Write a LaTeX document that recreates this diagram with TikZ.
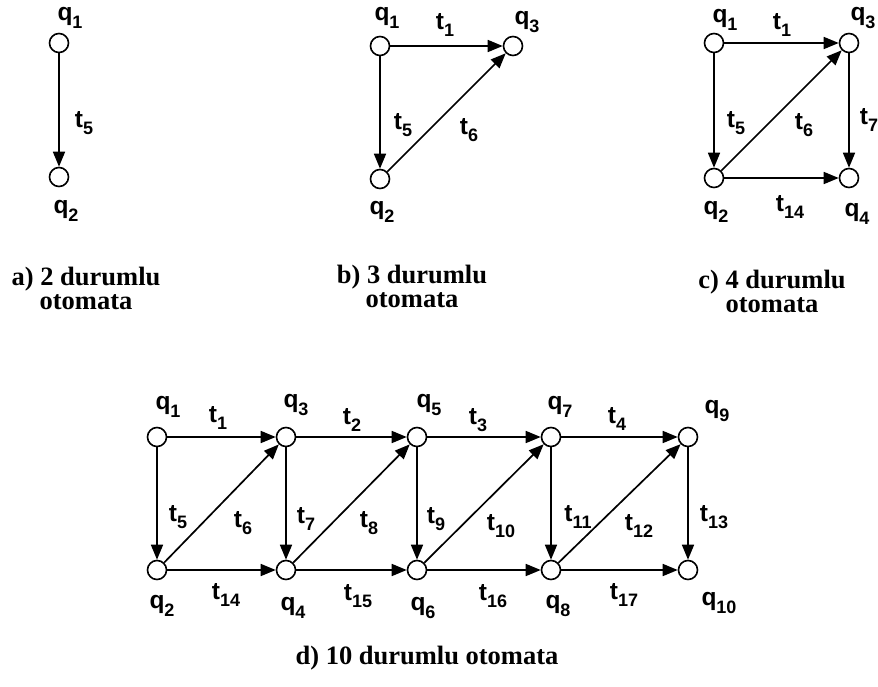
\documentclass[tikz,border=0pt]{standalone}
\usepackage{fontspec}
\setmainfont{Liberation Serif}
\newfontfamily\lsans{Liberation Sans}
\usetikzlibrary{arrows.meta}
\newcommand\lb[2]{{\lsans\bfseries\fontsize{24.5}{24.5}\selectfont #1\raisebox{-7.5pt}{\fontsize{18}{18}\selectfont #2}}}
\tikzset{
  st/.style={draw, circle, minimum size=19pt, inner sep=0pt, line width=1.6pt, fill=white},
  arr/.style={line width=1.7pt, -{Triangle[length=15pt,width=12pt]}},
  lbl/.style={inner sep=0pt},
  captxt/.style={inner sep=0pt, align=center, font=\bfseries\fontsize{26.5}{24}\selectfont}
}
\begin{document}
\begin{tikzpicture}[x=1pt,y=-1pt]
\useasboundingbox (0,0) rectangle (878,687);
% ---- a) ----
\node[st] (a1) at (59,43) {};
\node[st] (a2) at (59,177) {};
\draw[arr] (a1) -- (a2);
\node[lbl] (la1) at (70,18) {\lb{q}{1}};
\node[lbl] (la2) at (66,211) {\lb{q}{2}};
\node[lbl] (lat5) at (84,123) {\lb{t}{5}};
\node[captxt] (capa) at (86,288) {a) 2 durumlu\\otomata};
% ---- b) ----
\node[st] (b1) at (380,46) {};
\node[st] (b3) at (513,46) {};
\node[st] (b2) at (380,179) {};
\draw[arr] (b1) -- (b3);
\draw[arr] (b1) -- (b2);
\draw[arr] (b2) -- (b3);
\node[lbl] (lb1) at (387,18) {\lb{q}{1}};
\node[lbl] (lb3) at (527,22) {\lb{q}{3}};
\node[lbl] (lb2) at (382,212) {\lb{q}{2}};
\node[lbl] (lbt1) at (445,25) {\lb{t}{1}};
\node[lbl] (lbt5) at (403,125) {\lb{t}{5}};
\node[lbl] (lbt6) at (469,130) {\lb{t}{6}};
\node[captxt] (capb) at (412,286) {b) 3 durumlu\\otomata};
% ---- c) ----
\node[st] (c1) at (714,43) {};
\node[st] (c3) at (849,43) {};
\node[st] (c2) at (714,178) {};
\node[st] (c4) at (849,178) {};
\draw[arr] (c1) -- (c3);
\draw[arr] (c1) -- (c2);
\draw[arr] (c2) -- (c3);
\draw[arr] (c3) -- (c4);
\draw[arr] (c2) -- (c4);
\node[lbl] (lc1) at (725,20) {\lb{q}{1}};
\node[lbl] (lc3) at (863,18) {\lb{q}{3}};
\node[lbl] (lc2) at (716,212) {\lb{q}{2}};
\node[lbl] (lc4) at (857,214) {\lb{q}{4}};
\node[lbl] (lct1) at (782,25) {\lb{t}{1}};
\node[lbl] (lct5) at (736,123) {\lb{t}{5}};
\node[lbl] (lct6) at (804,125) {\lb{t}{6}};
\node[lbl] (lct7) at (869,120) {\lb{t}{7}};
\node[lbl] (lct14) at (790,207) {\lb{t}{14}};
\node[captxt] (capc) at (772,291) {c) 4 durumlu\\otomata};
% ---- d) ----
\node[st] (d1) at (157,437) {};
\node[st] (d3) at (286,437) {};
\node[st] (d5) at (417,437) {};
\node[st] (d7) at (551,437) {};
\node[st] (d9) at (688,437) {};
\node[st] (d2) at (157,570) {};
\node[st] (d4) at (286,570) {};
\node[st] (d6) at (417,570) {};
\node[st] (d8) at (551,570) {};
\node[st] (d10) at (688,570) {};
\draw[arr] (d1) -- (d3);
\draw[arr] (d3) -- (d5);
\draw[arr] (d5) -- (d7);
\draw[arr] (d7) -- (d9);
\draw[arr] (d2) -- (d4);
\draw[arr] (d4) -- (d6);
\draw[arr] (d6) -- (d8);
\draw[arr] (d8) -- (d10);
\draw[arr] (d1) -- (d2);
\draw[arr] (d3) -- (d4);
\draw[arr] (d5) -- (d6);
\draw[arr] (d7) -- (d8);
\draw[arr] (d9) -- (d10);
\draw[arr] (d2) -- (d3);
\draw[arr] (d4) -- (d5);
\draw[arr] (d6) -- (d7);
\draw[arr] (d8) -- (d9);
\node[lbl] (ld1) at (168,407) {\lb{q}{1}};
\node[lbl] (ld3) at (296,405) {\lb{q}{3}};
\node[lbl] (ld5) at (429,405) {\lb{q}{5}};
\node[lbl] (ld7) at (560,407) {\lb{q}{7}};
\node[lbl] (ld9) at (717,411) {\lb{q}{9}};
\node[lbl] (ld2) at (162,606) {\lb{q}{2}};
\node[lbl] (ld4) at (293,608) {\lb{q}{4}};
\node[lbl] (ld6) at (423,608) {\lb{q}{6}};
\node[lbl] (ld8) at (558,606) {\lb{q}{8}};
\node[lbl] (ld10) at (719,603) {\lb{q}{10}};
\node[lbl] (ldt1) at (218,418) {\lb{t}{1}};
\node[lbl] (ldt2) at (352,420) {\lb{t}{2}};
\node[lbl] (ldt3) at (478,420) {\lb{t}{3}};
\node[lbl] (ldt4) at (617,419) {\lb{t}{4}};
\node[lbl] (ldt5) at (178,517) {\lb{t}{5}};
\node[lbl] (ldt6) at (243,523) {\lb{t}{6}};
\node[lbl] (ldt7) at (306,519) {\lb{t}{7}};
\node[lbl] (ldt8) at (369,523) {\lb{t}{8}};
\node[lbl] (ldt9) at (436,519) {\lb{t}{9}};
\node[lbl] (ldt10) at (501,526) {\lb{t}{10}};
\node[lbl] (ldt11) at (578,517) {\lb{t}{11}};
\node[lbl] (ldt12) at (639,526) {\lb{t}{12}};
\node[lbl] (ldt13) at (714,517) {\lb{t}{13}};
\node[lbl] (ldt14) at (226,595) {\lb{t}{14}};
\node[lbl] (ldt15) at (358,596) {\lb{t}{15}};
\node[lbl] (ldt16) at (493,596) {\lb{t}{16}};
\node[lbl] (ldt17) at (624,595) {\lb{t}{17}};
\node[captxt] (capd) at (427,658) {d) 10 durumlu otomata};
\end{tikzpicture}
\end{document}
